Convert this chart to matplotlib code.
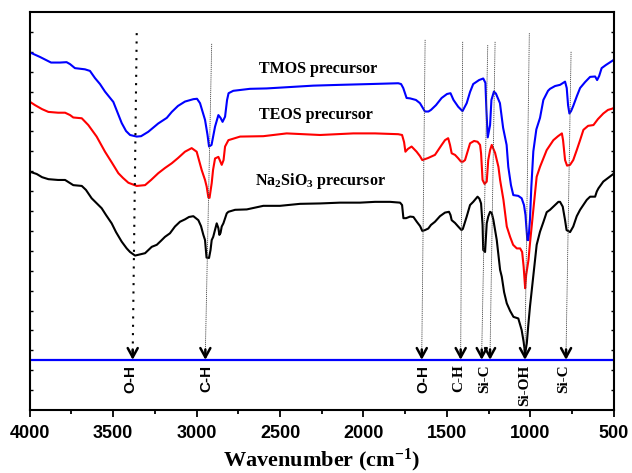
import numpy as np
import matplotlib
matplotlib.use("Agg")
import matplotlib.pyplot as plt

plt.rcParams['mathtext.fontset'] = 'custom'
plt.rcParams['mathtext.rm'] = 'Liberation Serif:bold'
plt.rcParams['mathtext.it'] = 'Liberation Serif:bold'
plt.rcParams['mathtext.bf'] = 'Liberation Serif:bold'

# FTIR spectra (wavenumber, arbitrary transmittance)
tmos_wn = [4000, 3937, 3871, 3817, 3778, 3757, 3728, 3668, 3638, 3608, 3578, 3548, 3498, 3448,
           3422, 3398, 3358, 3332, 3289, 3229, 3178, 3148, 3111, 3069, 3019, 2997, 2979, 2949,
           2934, 2925, 2910, 2889, 2869, 2856, 2844, 2829, 2817, 2808, 2780, 2680, 2580, 2460,
           2301, 2141, 1961, 1792, 1775, 1762, 1742, 1721, 1686, 1662, 1632, 1611, 1596, 1566,
           1532, 1500, 1479, 1461, 1433, 1407, 1382, 1362, 1343, 1308, 1283, 1270, 1264, 1256,
           1242, 1234, 1219, 1207, 1183, 1164, 1143, 1133, 1117, 1103, 1073, 1053, 1039, 1030,
           1019, 1012, 1003, 995, 983, 965, 943, 923, 895, 883, 853, 823, 793, 783, 775, 767,
           757, 744, 722, 703, 673, 643, 613, 601, 589, 574, 548, 504, 500]
tmos_t = [89.9, 88.7, 87.3, 87.3, 87.4, 86.9, 85.9, 85.6, 85.2, 83.4, 81.9, 80.0, 77.4, 72.1,
          70.1, 69.1, 68.7, 68.8, 69.9, 72.0, 73.4, 74.9, 76.4, 77.5, 78.1, 78.2, 77.1, 72.9,
          69.1, 66.2, 66.6, 71.2, 74.1, 73.4, 72.4, 73.7, 77.9, 79.6, 80.2, 80.7, 80.8, 81.1,
          81.5, 81.7, 81.9, 82.1, 81.9, 80.9, 78.4, 78.3, 77.9, 77.1, 75.0, 75.0, 75.4, 76.6,
          78.4, 79.4, 79.6, 77.9, 76.2, 75.1, 77.1, 79.9, 81.9, 82.9, 83.3, 82.2, 75.4, 68.5,
          71.6, 77.9, 80.0, 79.5, 77.1, 70.9, 66.6, 61.1, 56.5, 54.0, 53.8, 53.2, 51.5, 49.0,
          42.7, 42.7, 48.0, 56.0, 65.0, 70.5, 73.4, 77.9, 80.2, 80.7, 81.4, 81.7, 82.5, 80.9,
          76.6, 74.5, 75.1, 76.4, 78.9, 80.9, 82.4, 83.7, 83.8, 82.9, 83.9, 85.9, 86.7, 87.9, 88.1]

teos_wn = [4000, 3967, 3925, 3887, 3829, 3787, 3757, 3738, 3687, 3648, 3598, 3548, 3506, 3468,
           3440, 3408, 3358, 3308, 3272, 3229, 3189, 3148, 3111, 3069, 3029, 2999, 2969, 2949,
           2939, 2929, 2922, 2909, 2901, 2889, 2869, 2849, 2838, 2829, 2809, 2739, 2600, 2460,
           2260, 2061, 1931, 1792, 1769, 1757, 1749, 1734, 1712, 1682, 1662, 1648, 1614, 1572,
           1532, 1512, 1493, 1482, 1472, 1452, 1434, 1416, 1404, 1392, 1362, 1338, 1317, 1302,
           1296, 1287, 1275, 1262, 1253, 1242, 1232, 1212, 1192, 1182, 1162, 1142, 1122, 1104,
           1082, 1062, 1050, 1041, 1032, 1026, 1012, 1003, 983, 963, 943, 903, 863, 835, 812,
           805, 793, 781, 763, 744, 723, 703, 683, 655, 623, 596, 564, 536, 504, 500]
teos_t = [77.5, 76.6, 75.6, 74.9, 74.7, 74.7, 74.1, 73.5, 73.3, 71.6, 68.7, 64.9, 62.1, 59.5,
          58.3, 57.1, 56.3, 56.5, 57.8, 59.5, 60.8, 62.0, 63.3, 64.9, 65.8, 64.9, 60.3, 57.8,
          56.1, 53.4, 53.3, 57.0, 60.3, 63.2, 63.6, 61.6, 62.8, 66.2, 67.8, 68.7, 68.8, 69.5,
          69.1, 69.5, 69.5, 69.3, 69.1, 67.3, 64.9, 65.6, 66.2, 64.9, 63.8, 62.8, 63.3, 64.1,
          66.6, 67.8, 68.3, 66.6, 64.5, 64.1, 63.3, 62.4, 62.4, 62.8, 67.0, 67.6, 67.4, 66.6,
          64.5, 57.8, 56.8, 57.4, 62.8, 65.3, 66.6, 64.6, 61.1, 57.8, 52.8, 46.1, 43.5, 41.5,
          40.6, 40.6, 39.7, 36.0, 30.6, 33.9, 37.7, 41.9, 50.3, 58.6, 61.1, 65.3, 67.8, 68.8, 69.5,
          67.8, 62.8, 61.4, 61.6, 62.8, 65.3, 67.8, 70.4, 71.4, 71.6, 73.1, 74.5, 75.4, 75.8, 76.1]

na_wn = [4000, 3957, 3925, 3887, 3829, 3787, 3757, 3738, 3687, 3662, 3628, 3568, 3542, 3508,
         3482, 3448, 3418, 3398, 3368, 3338, 3308, 3268, 3238, 3213, 3189, 3159, 3129, 3099,
         3069, 3045, 3019, 2989, 2973, 2959, 2949, 2940, 2925, 2916, 2909, 2900, 2879, 2869,
         2863, 2856, 2849, 2839, 2819, 2809, 2769, 2699, 2600, 2500, 2380, 2260, 2141, 2021,
         1931, 1841, 1781, 1769, 1761, 1745, 1721, 1701, 1681, 1661, 1648, 1632, 1612, 1596,
         1572, 1542, 1512, 1488, 1479, 1472, 1452, 1433, 1413, 1405, 1382, 1362, 1343, 1317,
         1306, 1296, 1287, 1283, 1272, 1262, 1253, 1242, 1232, 1222, 1202, 1182, 1172, 1158,
         1142, 1122, 1102, 1073, 1053, 1041, 1032, 1022, 1013, 1003, 988, 973, 963, 943, 923,
         903, 883, 863, 833, 823, 807, 793, 784, 763, 744, 723, 703, 663, 643, 613, 603, 593,
         564, 536, 504, 500]
na_t = [59.9, 59.3, 58.5, 58.0, 57.8, 57.8, 57.0, 56.5, 56.3, 55.3, 53.2, 50.7, 49.0, 46.9,
        44.7, 42.3, 40.6, 39.7, 38.8, 39.1, 39.4, 41.0, 41.5, 42.5, 43.5, 44.4, 46.1, 47.3,
        47.9, 48.5, 48.7, 47.7, 46.2, 44.0, 42.7, 38.3, 38.2, 40.2, 42.7, 43.5, 46.9, 45.7,
        44.0, 44.5, 46.1, 46.9, 49.4, 49.8, 50.3, 50.4, 51.3, 51.3, 51.8, 51.9, 52.1, 52.1,
        52.3, 52.3, 52.1, 51.5, 48.2, 48.2, 48.6, 48.5, 47.3, 46.2, 45.0, 45.2, 45.6, 46.5,
        47.3, 48.7, 49.6, 49.8, 49.0, 47.7, 47.0, 46.1, 45.2, 45.5, 48.6, 51.5, 52.3, 53.6,
        53.1, 51.9, 46.5, 40.2, 39.7, 46.9, 48.6, 49.8, 49.5, 47.7, 42.7, 35.2, 33.5, 29.6,
        26.8, 24.9, 23.4, 23.0, 20.1, 17.1, 14.2, 16.8, 21.4, 26.0, 31.9, 37.7, 41.5, 44.8, 47.2,
        49.7, 50.3, 51.1, 52.3, 52.3, 51.1, 47.7, 45.2, 44.7, 46.1, 48.7, 50.3, 52.8, 53.6, 53.6,
        54.9, 55.7, 57.4, 58.3, 59.3, 59.4]

# Peak assignments: label, wavenumber at the guide top, wavenumber at the arrow tip, top level
peak_labels = ['O-H', 'C-H', 'O-H', 'C-H', 'Si-C', 'Si-C', 'Si-OH', 'Si-C']
peak_top_wn = [3358, 2909, 1631, 1406, 1256, 1212, 1007, 757]
peak_tip_wn = [3382, 2947, 1651, 1418, 1292, 1242, 1033, 787]
peak_top_t = [94.7, 92.0, 93.0, 92.5, 91.7, 92.5, 94.7, 90.0]
label_wn = [3395, 2940, 1640, 1432, None, 1273, 1033, 800]
label_family = ['Liberation Sans', 'Liberation Sans', 'Liberation Sans', 'Liberation Serif',
                None, 'Liberation Serif', 'Liberation Serif', 'Liberation Serif']
baseline_t = 12.6

fig = plt.figure(figsize=(6.32, 4.73), dpi=100)
ax = fig.add_axes([0.0467, 0.1332, 0.9248, 0.8414])

ax.plot(tmos_wn, tmos_t, color='blue', lw=1.5)
ax.plot(teos_wn, teos_t, color='red', lw=1.5)
ax.plot(na_wn, na_t, color='black', lw=1.5)
ax.axhline(baseline_t, color='blue', lw=1.6)

for i in range(len(peak_labels)):
    if i == 0:
        ax.plot([peak_top_wn[i], peak_tip_wn[i]], [peak_top_t[i], baseline_t + 2],
                color='black', ls=(0, (1, 3)), lw=1.5)
    else:
        ax.plot([peak_top_wn[i], peak_tip_wn[i]], [peak_top_t[i], baseline_t + 2],
                color='#444444', ls=(0, (1.5, 1)), lw=0.6)
    ax.annotate('', xy=(peak_tip_wn[i], baseline_t), xytext=(peak_tip_wn[i], baseline_t + 2.6),
                arrowprops=dict(arrowstyle='->,head_length=0.55,head_width=0.3', lw=1.8,
                                color='black', shrinkA=0, shrinkB=0, mutation_scale=12))
    if label_wn[i] is not None:
        ax.text(label_wn[i], baseline_t - 1.2, peak_labels[i], rotation=90, ha='center',
                va='top', fontsize=11, fontweight='bold', family=label_family[i])

ax.text(2272, 84.7, 'TMOS precursor', ha='center', va='baseline', fontsize=11.5,
        fontweight='bold', family='Liberation Serif')
ax.text(2287, 73.2, 'TEOS precursor', ha='center', va='baseline', fontsize=11.5,
        fontweight='bold', family='Liberation Serif')
ax.text(2260, 56.5, 'Na$_2$SiO$_3$ precursor', ha='center', va='baseline', fontsize=11.5,
        fontweight='bold', family='Liberation Serif')

ax.set_xlim(4000, 500)
ax.set_ylim(0, 100)
ax.set_xticks(np.arange(4000, 499, -500))
ax.set_xticks(np.arange(3750, 500, -500), minor=True)
ax.set_yticks(np.arange(5, 100, 5))
ax.set_yticklabels([])
for lab in ax.get_xticklabels():
    lab.set_fontfamily('Liberation Sans')
    lab.set_fontweight('bold')
    lab.set_fontsize(13)
ax.tick_params(axis='x', which='major', direction='out', length=5, width=1.3, pad=6, top=False)
ax.tick_params(axis='x', which='minor', direction='out', length=3, width=1.3, top=False)
ax.tick_params(axis='y', direction='in', length=2.5, width=1.0, left=True, right=True)
for sp in ax.spines.values():
    sp.set_linewidth(1.5)

ax.set_xlabel('Wavenumber (cm$^{-1}$)', fontsize=16, fontweight='bold',
              family='Liberation Serif', labelpad=3)

fig.savefig('out.png', dpi=100)
